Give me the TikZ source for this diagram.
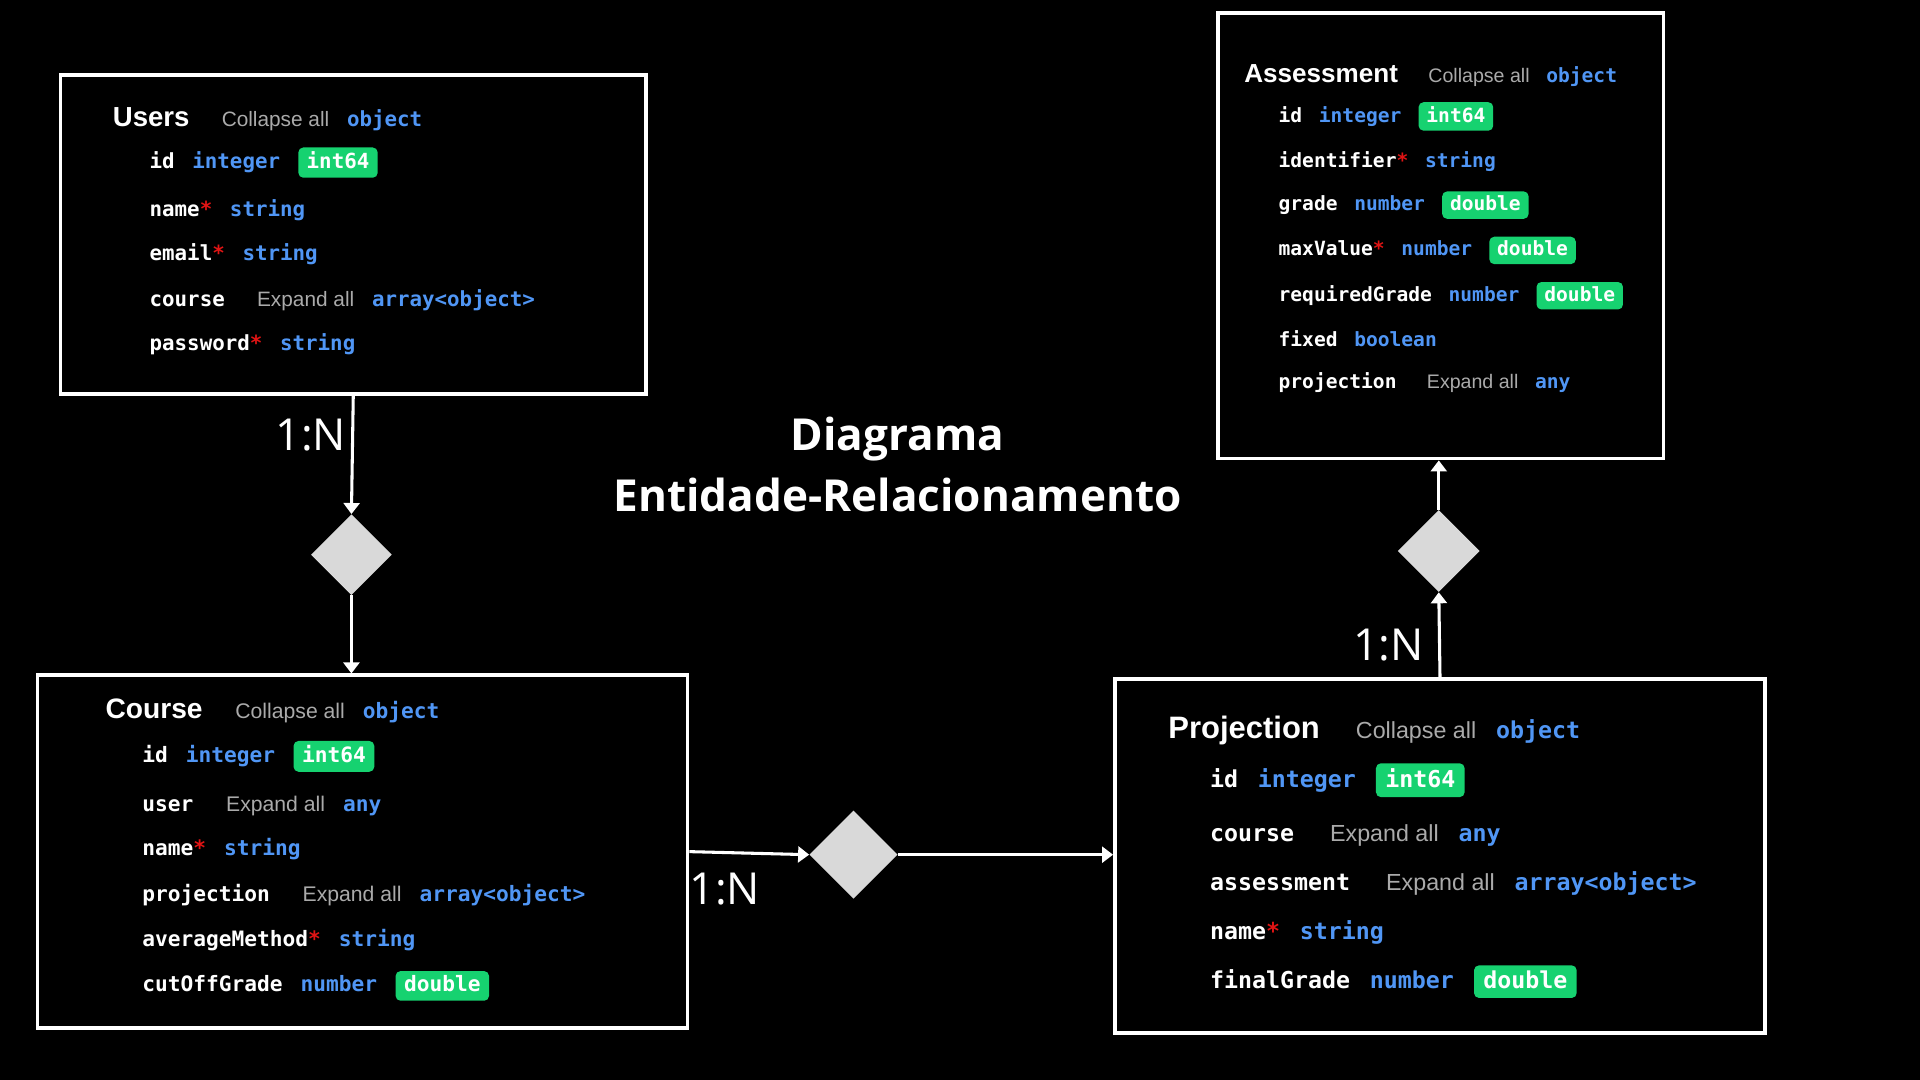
\documentclass[tikz,border=0pt]{standalone}
\usepackage{fontspec}
\setmainfont{Liberation Sans}
\newfontfamily\mono{DejaVu Sans Mono}
\newfontfamily\osans{Open Sans}
\usetikzlibrary{shapes.geometric,arrows.meta,calc}
\definecolor{typeblue}{RGB}{80,150,245}
\definecolor{graytxt}{RGB}{170,170,170}
\definecolor{badgegreen}{RGB}{22,210,112}
\definecolor{reqred}{RGB}{225,20,20}
\definecolor{diagray}{RGB}{217,217,217}
\newcommand\efn[1]{\textcolor{white}{\mono\bfseries #1}}
\newcommand\ereq{\textcolor{reqred}{\mono\bfseries *}}
\newcommand\ety[1]{\textcolor{typeblue}{\mono\bfseries #1}}
\newcommand\egr[1]{\textcolor{graytxt}{\normalfont #1}}
\newcommand\ettl[2]{{\fontsize{#1}{#1}\selectfont\bfseries\textcolor{white}{#2}}}
\newcommand\egap{\hspace{0.85em}}
\newcommand\ebig{\hspace{1.55em}}
\tikzset{
  ent/.style={draw=white, line width=3pt, anchor=north west, inner sep=0pt},
  row/.style={anchor=base west, inner sep=0pt, text=white, font=\fontsize{#1}{#1}\selectfont},
  badge/.style={anchor=base west, fill=badgegreen, rounded corners=4pt, text=white,
    inner xsep=#1*0.4pt, inner ysep=#1*0.22pt,
    font=\fontsize{#1}{#1}\selectfont\mono\bfseries,
    execute at begin node={\rule[-0.2em]{0pt}{0.96em}}},
  dia/.style={diamond, fill=diagray, inner sep=0pt, minimum width=#1, minimum height=#1},
  conn/.style={draw=white, line width=2.5pt, -{Triangle[width=13pt,length=9pt]}},
  card/.style={text=white, font=\osans\fontsize{36}{36}\selectfont, inner sep=0pt},
}
\begin{document}
\begin{tikzpicture}[x=1pt,y=-1pt]
\fill[black] (0,0) rectangle (1568,882);
\useasboundingbox (0,0) rectangle (1568,882);

% entity boxes
\node[ent, minimum width=478pt, minimum height=260pt] (users) at (48,60) {};
\node[ent, minimum width=364pt, minimum height=364pt] (assess) at (993,9) {};
\node[ent, minimum width=531pt, minimum height=288pt] (course) at (29,550) {};
\node[ent, minimum width=531pt, minimum height=289pt] (proj) at (909,553) {};

% diamonds
\node[dia=66pt] (d1) at (287,453) {};
\node[dia=67pt] (d2) at (1175,450) {};
\node[dia=72pt] (d3) at (697,698) {};

% connectors
\draw[conn] (users.south) -- (d1.north);
\draw[conn] (d1.south) -- (d1.south |- course.north);
\draw[conn] (course.east) -- (d3.west);
\draw[conn] (d3.east) -- (d3.east -| proj.west);
\draw[conn] (proj.north) -- (d2.south);
\draw[conn] (d2.north) -- (d2.north |- assess.south);

% cardinalities
\node[card] (c1) at (254,355) {1:N};
\node[card] (c2) at (592,726) {1:N};
\node[card] (c3) at (1134,527) {1:N};

% title
\node[text=white, align=center, inner sep=0pt, font=\osans\bfseries\fontsize{36}{50}\selectfont] (title) at (733,379) {Diagrama\\Entidade-Relacionamento};

% Users
\node[row=17] (ut) at (92,103) {\ettl{22.5}{Users}\ebig\egr{Collapse all}\egap\ety{object}};
\node[row=17] (u1) at (122,138) {\efn{id}\egap\ety{integer}};
\node[badge=17] (u1b) at ([xshift=14.5pt]u1.base east) {int64};
\node[row=17] (u2) at (122,177) {\efn{name}\ereq\egap\ety{string}};
\node[row=17] (u3) at (122,213) {\efn{email}\ereq\egap\ety{string}};
\node[row=17] (u4) at (122,250) {\efn{course}\ebig\egr{Expand all}\egap\ety{array<object>}};
\node[row=17] (u5) at (122,286) {\efn{password}\ereq\egap\ety{string}};

% Assessment
\node[row=16] (at) at (1016,67) {\ettl{21.3}{Assessment}\ebig\egr{Collapse all}\egap\ety{object}};
\node[row=16] (a1) at (1044,100) {\efn{id}\egap\ety{integer}};
\node[badge=16] (a1b) at ([xshift=13.6pt]a1.base east) {int64};
\node[row=16] (a2) at (1044,137) {\efn{identifier}\ereq\egap\ety{string}};
\node[row=16] (a3) at (1044,172) {\efn{grade}\egap\ety{number}};
\node[badge=16] (a3b) at ([xshift=13.6pt]a3.base east) {double};
\node[row=16] (a4) at (1044,209) {\efn{maxValue}\ereq\egap\ety{number}};
\node[badge=16] (a4b) at ([xshift=13.6pt]a4.base east) {double};
\node[row=16] (a5) at (1044,246) {\efn{requiredGrade}\egap\ety{number}};
\node[badge=16] (a5b) at ([xshift=13.6pt]a5.base east) {double};
\node[row=16] (a6) at (1044,283) {\efn{fixed}\egap\ety{boolean}};
\node[row=16] (a7) at (1044,317) {\efn{projection}\ebig\egr{Expand all}\egap\ety{any}};

% Course
\node[row=17.3] (ct) at (86,587) {\ettl{23}{Course}\ebig\egr{Collapse all}\egap\ety{object}};
\node[row=17.3] (c1r) at (116,623) {\efn{id}\egap\ety{integer}};
\node[badge=17.3] (c1b) at ([xshift=14.7pt]c1r.base east) {int64};
\node[row=17.3] (c2r) at (116,663) {\efn{user}\ebig\egr{Expand all}\egap\ety{any}};
\node[row=17.3] (c3r) at (116,699) {\efn{name}\ereq\egap\ety{string}};
\node[row=17.3] (c4r) at (116,736) {\efn{projection}\ebig\egr{Expand all}\egap\ety{array<object>}};
\node[row=17.3] (c5r) at (116,773) {\efn{averageMethod}\ereq\egap\ety{string}};
\node[row=17.3] (c6r) at (116,810) {\efn{cutOffGrade}\egap\ety{number}};
\node[badge=17.3] (c6b) at ([xshift=14.7pt]c6r.base east) {double};

% Projection
\node[row=19] (pt) at (954,603) {\ettl{25.3}{Projection}\ebig\egr{Collapse all}\egap\ety{object}};
\node[row=19] (p1) at (988,643) {\efn{id}\egap\ety{integer}};
\node[badge=19] (p1b) at ([xshift=16pt]p1.base east) {int64};
\node[row=19] (p2) at (988,687) {\efn{course}\ebig\egr{Expand all}\egap\ety{any}};
\node[row=19] (p3) at (988,727) {\efn{assessment}\ebig\egr{Expand all}\egap\ety{array<object>}};
\node[row=19] (p4) at (988,767) {\efn{name}\ereq\egap\ety{string}};
\node[row=19] (p5) at (988,807) {\efn{finalGrade}\egap\ety{number}};
\node[badge=19] (p5b) at ([xshift=16pt]p5.base east) {double};
\end{tikzpicture}
\end{document}
